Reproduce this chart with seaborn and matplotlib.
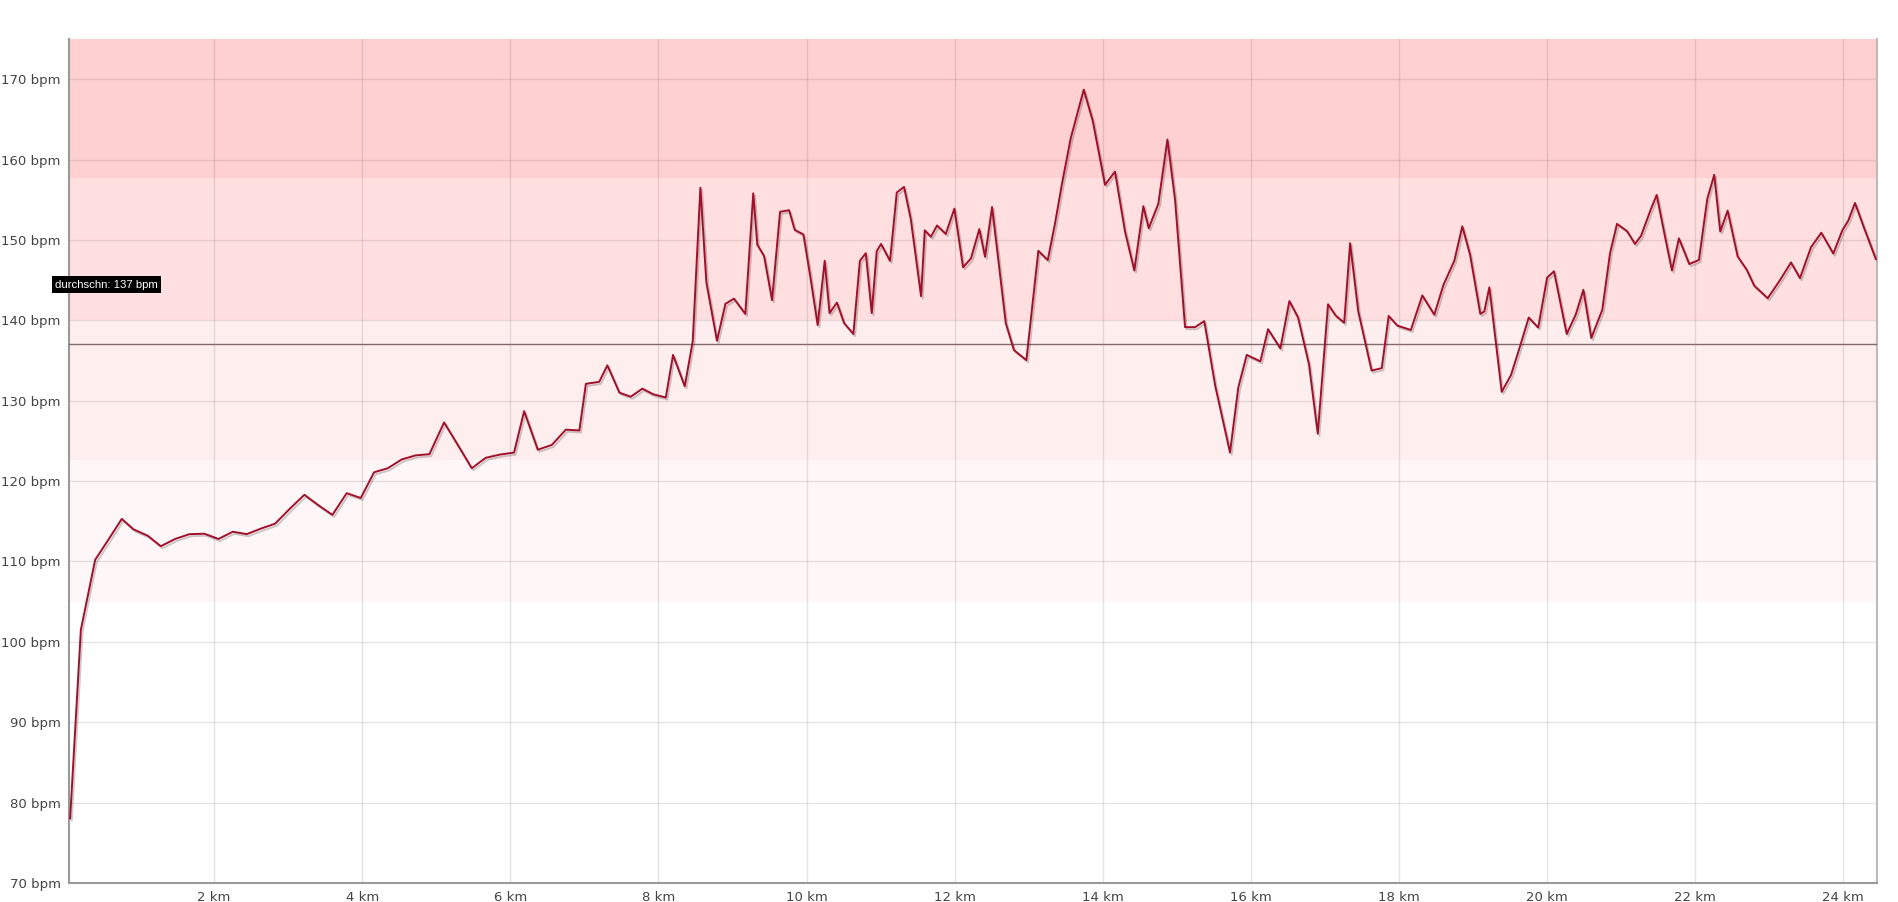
import matplotlib
matplotlib.use("Agg")
from matplotlib import pyplot as plt
from matplotlib import patheffects as pe
import seaborn as sns
import pandas as pd

# distance (km) and heart rate (bpm)
distance_km = [
    0.055, 0.20, 0.393, 0.571, 0.753, 0.91, 1.104, 1.28, 1.473, 1.667,
    1.869, 2.058, 2.252, 2.441, 2.634, 2.823, 3.026, 3.219, 3.408, 3.597,
    3.79, 3.98, 4.16, 4.345, 4.534, 4.723, 4.907, 5.105, 5.29, 5.479,
    5.668, 5.86, 6.05, 6.186, 6.37, 6.56, 6.749, 6.932, 7.02, 7.20,
    7.31, 7.473, 7.626, 7.783, 7.93, 8.099, 8.197, 8.355, 8.463, 8.566,
    8.647, 8.79, 8.904, 9.02, 9.173, 9.28, 9.335, 9.426, 9.534, 9.642,
    9.764, 9.84, 9.957, 10.05, 10.15, 10.245, 10.31, 10.41, 10.507, 10.632,
    10.72, 10.80, 10.88, 10.947, 11.006, 11.127, 11.218, 11.316, 11.407, 11.546,
    11.596, 11.68, 11.762, 11.88, 11.996, 12.113, 12.22, 12.333, 12.41, 12.505,
    12.69, 12.80, 12.968, 13.13, 13.257, 13.356, 13.446, 13.567, 13.743, 13.865,
    14.03, 14.165, 14.30, 14.426, 14.548, 14.62, 14.75, 14.873, 14.976, 15.111,
    15.246, 15.371, 15.516, 15.718, 15.83, 15.944, 16.128, 16.232, 16.398, 16.52,
    16.637, 16.785, 16.903, 17.042, 17.145, 17.26, 17.34, 17.45, 17.63, 17.767,
    17.861, 17.977, 18.16, 18.315, 18.477, 18.6, 18.747, 18.855, 18.96, 19.098,
    19.152, 19.22, 19.387, 19.513, 19.634, 19.752, 19.88, 20.0, 20.093, 20.265,
    20.386, 20.49, 20.597, 20.745, 20.85, 20.944, 21.08, 21.187, 21.268, 21.398,
    21.48, 21.578, 21.686, 21.78, 21.92, 22.05, 22.163, 22.257, 22.338, 22.438,
    22.573, 22.695, 22.798, 22.98, 23.145, 23.294, 23.415, 23.564, 23.703, 23.865,
    23.987, 24.067, 24.158, 24.27, 24.44,
]
heart_rate = [
    78.0, 101.5, 110.2, 112.7, 115.3, 114.0, 113.2, 111.9, 112.8, 113.4,
    113.45, 112.8, 113.7, 113.4, 114.1, 114.7, 116.6, 118.3, 117.0, 115.8,
    118.5, 117.9, 121.1, 121.6, 122.7, 123.2, 123.35, 127.3, 124.5, 121.6,
    122.9, 123.3, 123.55, 128.7, 123.9, 124.5, 126.4, 126.3, 132.1, 132.35,
    134.4, 131.0, 130.5, 131.5, 130.8, 130.4, 135.7, 131.8, 137.4, 156.5,
    144.7, 137.45, 142.05, 142.7, 140.8, 155.8, 149.4, 148.0, 142.5, 153.5,
    153.7, 151.25, 150.7, 145.45, 139.4, 147.4, 140.9, 142.2, 139.65, 138.3,
    147.4, 148.35, 140.9, 148.6, 149.5, 147.4, 155.9, 156.6, 152.6, 143.0,
    151.2, 150.4, 151.8, 150.75, 153.9, 146.6, 147.7, 151.35, 147.9, 154.1,
    139.65, 136.3, 135.05, 148.65, 147.5, 152.1, 156.85, 162.65, 168.7, 164.8,
    156.85, 158.5, 151.05, 146.2, 154.2, 151.45, 154.5, 162.5, 155.0, 139.15,
    139.15, 139.9, 131.95, 123.55, 131.65, 135.7, 134.9, 138.9, 136.5, 142.4,
    140.35, 134.5, 125.9, 142.0, 140.6, 139.7, 149.6, 141.1, 133.75, 134.05,
    140.55, 139.35, 138.8, 143.1, 140.7, 144.4, 147.4, 151.7, 148.15, 140.8,
    141.1, 144.1, 131.1, 133.2, 136.75, 140.35, 139.1, 145.3, 146.1, 138.3,
    140.7, 143.8, 137.8, 141.3, 148.35, 152.0, 151.1, 149.5, 150.5, 153.75,
    155.6, 151.05, 146.2, 150.2, 147.0, 147.5, 155.1, 158.1, 151.05, 153.65,
    147.95, 146.3, 144.3, 142.75, 145.0, 147.2, 145.25, 149.1, 150.9, 148.3,
    151.2, 152.4, 154.6, 151.75, 147.6,
]

average_bpm = 137
avg_label = "durchschn: 137 bpm"

# heart rate zones (lower, upper, colour)
zone_bounds = [105, 122.6, 140, 157.7, 175]
zone_colors = ["#fff7f7", "#ffeeee", "#ffdfdf", "#ffd0d0"]

y_ticks = list(range(70, 171, 10))
x_ticks = list(range(2, 25, 2))

df = pd.DataFrame({"km": distance_km, "bpm": heart_rate})

sns.set_style("white")
fig = plt.figure(figsize=(18.98, 9.02), dpi=100)
ax = fig.add_axes([69 / 1898, 19 / 902, (1877 - 69) / 1898, (883 - 39) / 902])

for i, c in enumerate(zone_colors):
    ax.axhspan(zone_bounds[i], zone_bounds[i + 1], color=c, zorder=0, lw=0)

ax.set_axisbelow(True)
ax.grid(True, color="black", alpha=0.1, lw=1.0)

ax.axhline(average_bpm, color="#806a6a", lw=1.0, zorder=3)

sns.lineplot(data=df, x="km", y="bpm", sort=False, ax=ax, color="#a0102a",
             lw=1.4, zorder=4,
             path_effects=[pe.SimpleLineShadow(offset=(1.2, -1.5), shadow_color="#000000", alpha=0.2),
                           pe.Normal()])

ax.text(-0.0077, 144.45, avg_label, transform=ax.get_yaxis_transform(),
        ha="left", va="center", color="white", fontsize=8.2,
        family="Liberation Sans", clip_on=False, zorder=6,
        bbox=dict(boxstyle="square,pad=0.3", fc="black", ec="none"))

ax.set_xlim(0.04, 24.455)
ax.set_ylim(70, 175)
ax.set_yticks(y_ticks)
ax.set_yticklabels([f"{v} bpm" for v in y_ticks])
ax.set_xticks(x_ticks)
ax.set_xticklabels([f"{v} km" for v in x_ticks])
ax.tick_params(length=0, labelsize=9.5, labelcolor="#444444", pad=6)
ax.set_xlabel("")
ax.set_ylabel("")

for side in ["left", "bottom"]:
    ax.spines[side].set_color("#999999")
    ax.spines[side].set_linewidth(1.5)
ax.spines["right"].set_color("#bbbbbb")
ax.spines["right"].set_linewidth(1.5)
ax.spines["top"].set_visible(False)

fig.savefig("out.png", dpi=100, facecolor="white")
